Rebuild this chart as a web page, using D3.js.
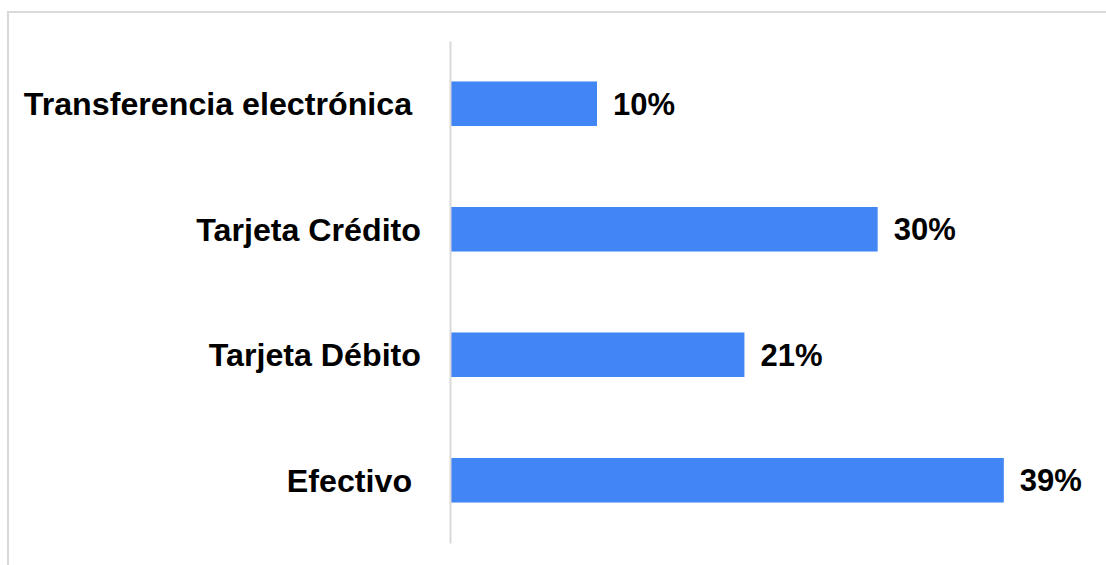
<!doctype html>
<html>

<head>
    <meta charset="utf-8">
    <title>Medios de pago</title>
    <script src="https://d3js.org/d3.v7.min.js"></script>
</head>

<style>
    body { margin: 0; background: #ffffff; }
    .axis text { font: bold 32.2px "Liberation Sans", Arial, sans-serif; fill: #000000; white-space: pre; }
    .axis path { stroke: #d9d9d9; stroke-width: 2; }
    .label { font: bold 31px "Liberation Sans", Arial, sans-serif; fill: #000000; }
</style>

<body>

    <script>

    // data
    var categories = ['Transferencia electrónica ', 'Tarjeta Crédito', 'Tarjeta Débito', 'Efectivo '];
    var shares = [0.103, 0.301, 0.207, 0.390];

    // canvas parameters
    var canvasWidth = 1106;
    var canvasHeight = 565;

    var svg = d3.select('body')
                  .append('svg')
                  .attr('width', canvasWidth)
                  .attr('height', canvasHeight);

    // chart frame (right and bottom edges fall outside the picture)
    svg.append('rect')
                  .attr('x', 8)
                  .attr('y', 12)
                  .attr('width', 1200)
                  .attr('height', 700)
                  .attr('fill', 'none')
                  .attr('stroke', '#d9d9d9')
                  .attr('stroke-width', 2);

    // horizontal scale
    var xScale = d3.scaleLinear()
                  .domain([0, 0.4])
                  .range([451, 1018]);

    // vertical band scale
    var yScale = d3.scaleBand()
                  .domain(categories)
                  .range([41, 543])
                  .paddingInner(0.645)
                  .paddingOuter(0.3225);

    // bars
    svg.append('g')
                  .selectAll('rect')
                  .data(shares)
                  .enter()
                  .append('rect')
                  .attr('x', xScale(0))
                  .attr('y', function(d, i) { return yScale(categories[i]); })
                  .attr('width', function(d) { return xScale(d) - xScale(0); })
                  .attr('height', yScale.bandwidth())
                  .attr('fill', '#4285f4');

    // category axis
    var yAxis = d3.axisLeft(yScale)
                  .tickSize(0)
                  .tickPadding(29);

    svg.append('g')
                  .attr('class', 'axis')
                  .attr('transform', 'translate(450, 0)')
                  .call(yAxis)
                  .selectAll('text')
                  .attr('dy', '0.35em');

    // value labels
    var fmt = d3.format('.0%');
    svg.append('g')
                  .selectAll('text')
                  .data(shares)
                  .enter()
                  .append('text')
                  .attr('class', 'label')
                  .attr('x', function(d) { return xScale(d) + 16; })
                  .attr('y', function(d, i) { return yScale(categories[i]) + yScale.bandwidth() / 2; })
                  .attr('dy', '0.35em')
                  .text(function(d) { return fmt(d); });

    </script>

</body>

</html>
